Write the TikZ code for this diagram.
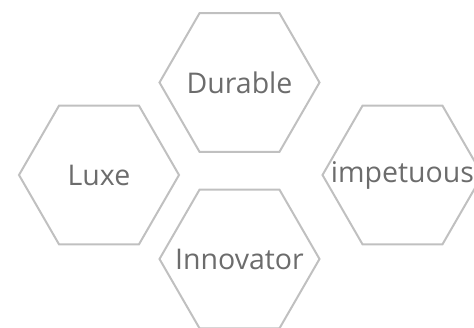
\documentclass[tikz,border=0pt]{standalone}
\usepackage{fontspec}
\setmainfont{Open Sans}
\usetikzlibrary{shapes.geometric}
\definecolor{hexline}{RGB}{192,192,192}
\definecolor{hextext}{RGB}{108,108,108}
\tikzset{
  hexa/.style={regular polygon, regular polygon sides=6, minimum size=160pt,
    inner sep=0pt, outer sep=0pt, draw=hexline, line width=2pt,
    text=hextext, font=\fontsize{28.5}{30}\selectfont}
}
\newcommand{\hextxt}[1]{\makebox[0pt]{#1}}
\begin{document}
\begin{tikzpicture}[x=1pt,y=1pt]
\useasboundingbox (0,0) rectangle (474,327);
\node[hexa] (durable) at (239.5,244.5) {\hextxt{Durable}};
\node[hexa] (luxe) at (99,152) {\hextxt{Luxe}};
\node[hexa] (impetuous) at (402.5,152) {\hextxt{impetuous}};
\node[hexa] (innovator) at (239.5,68) {\hextxt{Innovator}};
\end{tikzpicture}
\end{document}
